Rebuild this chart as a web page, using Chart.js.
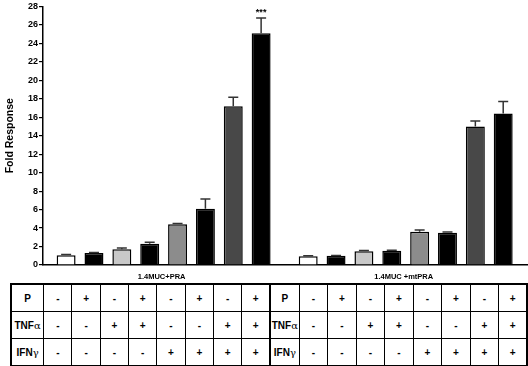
<!DOCTYPE html>
<html>
<head>
<meta charset="utf-8">
<script src="https://cdn.jsdelivr.net/npm/chart.js@4.4.0/dist/chart.umd.min.js"></script>
<style>
  html, body { margin: 0; padding: 0; background: #fff; }
  body { width: 528px; height: 366px; position: relative; overflow: hidden; font-family: "Liberation Sans", Arial, sans-serif; }
  #wrap { position: absolute; left: 0; top: 0; width: 528px; height: 280px; }
  #tbl { position: absolute; left: 10px; top: 283px; border-collapse: collapse; table-layout: fixed; width: 516px; height: 81px; border: 2px solid #000; }
  #tbl td { border: 1px solid #000; text-align: center; vertical-align: middle; padding: 0; font-weight: bold; font-size: 10px; color: #000; height: 26px; }
  #tbl td.div { border-left: 2px solid #000; }
  #tbl td.lab { font-size: 10px; }
  .gr { font-weight: normal; font-family: "DejaVu Serif", serif; font-size: 10px; }
</style>
</head>
<body>
<div id="wrap"><canvas id="c" width="528" height="280"></canvas></div>
<table id="tbl"></table>
<script>
// ---- data ----
const groups = ['1.4MUC+PRA', '1.4MUC +mtPRA'];
const praValues = [1.05, 1.3, 1.7, 2.3, 4.4, 6.1, 17.2, 25.1];
const praErrors = [0.08, 0.06, 0.15, 0.15, 0.1, 1.05, 0.95, 1.65];
const mtpraValues = [0.95, 1.0, 1.5, 1.55, 3.6, 3.5, 15.0, 16.4];
const mtpraErrors = [0.05, 0.04, 0.07, 0.05, 0.18, 0.06, 0.6, 1.3];
const yTicks = { min: 0, max: 28, step: 2 };
const rowLabels = ['P', 'TNF\u03b1', 'IFN\u03b3'];
const pRow = ['-', '+', '-', '+', '-', '+', '-', '+'];
const tnfRow = ['-', '-', '+', '+', '-', '-', '+', '+'];
const ifnRow = ['-', '-', '-', '-', '+', '+', '+', '+'];
const significance = { group: 0, index: 7, text: '***' };
const yTitle = 'Fold Response';

// ---- styles / layout ----
const barFills = ['#ffffff', '#000000', '#c8c8c8', '#000000', '#8c8c8c', '#000000', '#484848', '#000000'];
const groupOffset = 8.69;
const FONT = '"Liberation Sans", Arial, sans-serif';

const groupValues = [praValues, mtpraValues];
const groupErrors = [praErrors, mtpraErrors];
const points = [], errs = [], fills = [];
groupValues.forEach((vals, g) => {
  vals.forEach((v, i) => {
    points.push({ x: i + g * groupOffset, y: v });
    errs.push(groupErrors[g][i]);
    fills.push(barFills[i]);
  });
});

const errorBars = {
  id: 'errorBars',
  afterDatasetsDraw(chart) {
    const ctx = chart.ctx;
    const meta = chart.getDatasetMeta(0);
    const ys = chart.scales.y;
    ctx.save();
    ctx.strokeStyle = '#333';
    ctx.lineWidth = 1.5;
    meta.data.forEach((el, i) => {
      const top = ys.getPixelForValue(points[i].y + errs[i]);
      ctx.beginPath();
      ctx.moveTo(el.x, el.y);
      ctx.lineTo(el.x, top);
      ctx.moveTo(el.x - 5, top);
      ctx.lineTo(el.x + 5, top);
      ctx.stroke();
    });
    // significance stars
    const idx = significance.group * praValues.length + significance.index;
    const el = meta.data[idx];
    const top = ys.getPixelForValue(points[idx].y + errs[idx]);
    ctx.fillStyle = '#000';
    ctx.font = 'bold 9px ' + FONT;
    ctx.textAlign = 'center';
    ctx.textBaseline = 'alphabetic';
    ctx.fillText(significance.text, el.x, top - 3);
    // group labels
    const xs = chart.scales.x;
    ctx.font = 'bold 7.5px ' + FONT;
    ctx.textBaseline = 'middle';
    groups.forEach((name, g) => {
      const n = groupValues[g].length;
      const cx = xs.getPixelForValue(g * groupOffset + (n - 1) / 2);
      ctx.fillText(name, cx - 2, 276.5);
    });
    ctx.restore();
  }
};

new Chart(document.getElementById('c'), {
  type: 'bar',
  data: {
    datasets: [{
      data: points,
      backgroundColor: fills,
      borderColor: '#000',
      borderWidth: 1.5,
      barPercentage: 0.68,
      categoryPercentage: 1
    }]
  },
  options: {
    responsive: false,
    animation: false,
    devicePixelRatio: 1,
    layout: { padding: { top: 3, right: 0, left: 0, bottom: 0 } },
    plugins: { legend: { display: false }, tooltip: { enabled: false } },
    scales: {
      x: {
        type: 'linear',
        min: -0.83,
        max: 16.58,
        ticks: { display: false },
        grid: { display: false },
        border: { display: true, color: '#000', width: 1.5 },
        afterBuildTicks: s => { s.ticks = []; },
        afterFit: s => { s.height = 15; }
      },
      y: {
        min: yTicks.min,
        max: yTicks.max,
        ticks: { stepSize: yTicks.step, color: '#000', padding: 1, font: { family: FONT, weight: 'bold', size: 9 } },
        grid: { drawOnChartArea: false, drawTicks: true, tickLength: 4, color: '#000', lineWidth: 1.2 },
        border: { display: true, color: '#000', width: 1.5 },
        title: { display: true, text: yTitle, color: '#000', padding: { top: 4, bottom: 0 }, font: { family: FONT, weight: 'bold', size: 10.5 } },
        afterFit: s => { s.width = 43; }
      }
    }
  },
  plugins: [errorBars]
});

// ---- treatment table ----
const rows = [pRow, tnfRow, ifnRow];
const tbl = document.getElementById('tbl');
const cg = document.createElement('colgroup');
const widths = [32.7].concat(Array(8).fill(28.3), [29], Array(8).fill(28.5));
widths.forEach(w => { const c = document.createElement('col'); c.style.width = w + 'px'; cg.appendChild(c); });
tbl.appendChild(cg);
function labelHTML(t) {
  return t.replace(/([\u03b1\u03b3])/g, '<span class="gr">$1</span>');
}
rows.forEach((r, ri) => {
  const tr = document.createElement('tr');
  for (let g = 0; g < groups.length; g++) {
    const lab = document.createElement('td');
    lab.className = 'lab' + (g > 0 ? ' div' : '');
    lab.innerHTML = labelHTML(rowLabels[ri]);
    tr.appendChild(lab);
    r.forEach(s => { const td = document.createElement('td'); td.textContent = s; tr.appendChild(td); });
  }
  tbl.appendChild(tr);
});
</script>
</body>
</html>
